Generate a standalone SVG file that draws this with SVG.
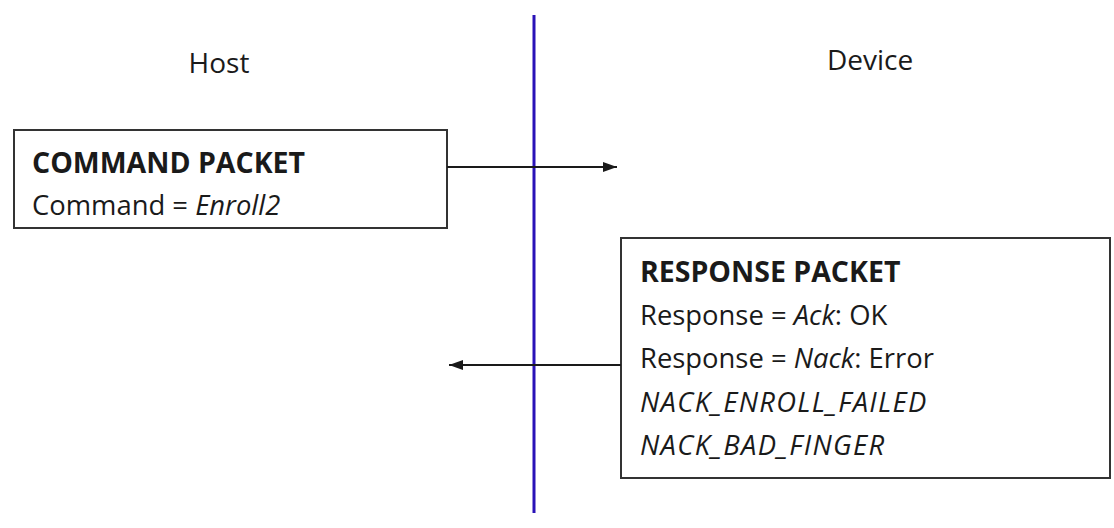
<svg xmlns="http://www.w3.org/2000/svg" width="1114" height="528" viewBox="0 0 1114 528">
<defs>
<style>
text{font-family:"Open Sans","Noto Sans","Liberation Sans",sans-serif;fill:#1a1a1a;font-size:27.4px}
.lbl{font-size:28px}
.b{font-weight:bold;font-size:28.5px}
.i{font-style:italic}
.code{letter-spacing:1.3px}
.box{fill:#fff;stroke:#333;stroke-width:2}
.conn{stroke:#1a1a1a;stroke-width:2;fill:none}
</style>
<marker id="ah" viewBox="0 0 14 10" refX="14" refY="5" markerWidth="14" markerHeight="10" orient="auto-start-reverse" markerUnits="userSpaceOnUse">
<path d="M0,0 L14,5 L0,10 z" fill="#1a1a1a"/>
</marker>
</defs>
<rect width="1114" height="528" fill="#fff"/>
<g id="host-label"><text class="lbl" x="219" y="73" text-anchor="middle">Host</text></g>
<g id="device-label"><text class="lbl" x="870" y="70" text-anchor="middle">Device</text></g>
<g id="command-packet">
<rect class="box" x="14" y="130" width="433" height="98"/>
<text x="32" y="173" class="b">COMMAND PACKET</text>
<text x="32" y="215">Command = <tspan class="i">Enroll2</tspan></text>
</g>
<g id="response-packet">
<rect class="box" x="621" y="238" width="489" height="240"/>
<text x="640" y="282" class="b">RESPONSE PACKET</text>
<text x="640" y="325">Response = <tspan class="i">Ack</tspan>: OK</text>
<text x="640" y="368">Response = <tspan class="i">Nack</tspan>: Error</text>
<text x="640" y="412" class="i code">NACK_ENROLL_FAILED</text>
<text x="640" y="455" class="i code">NACK_BAD_FINGER</text>
</g>
<g id="connectors">
<line x1="534" y1="15" x2="534" y2="513" stroke="#2a12b8" stroke-width="3"/>
<line class="conn" x1="447" y1="167" x2="617" y2="167" marker-end="url(#ah)"/>
<line class="conn" x1="621" y1="365" x2="449" y2="365" marker-end="url(#ah)"/>
</g>
</svg>
